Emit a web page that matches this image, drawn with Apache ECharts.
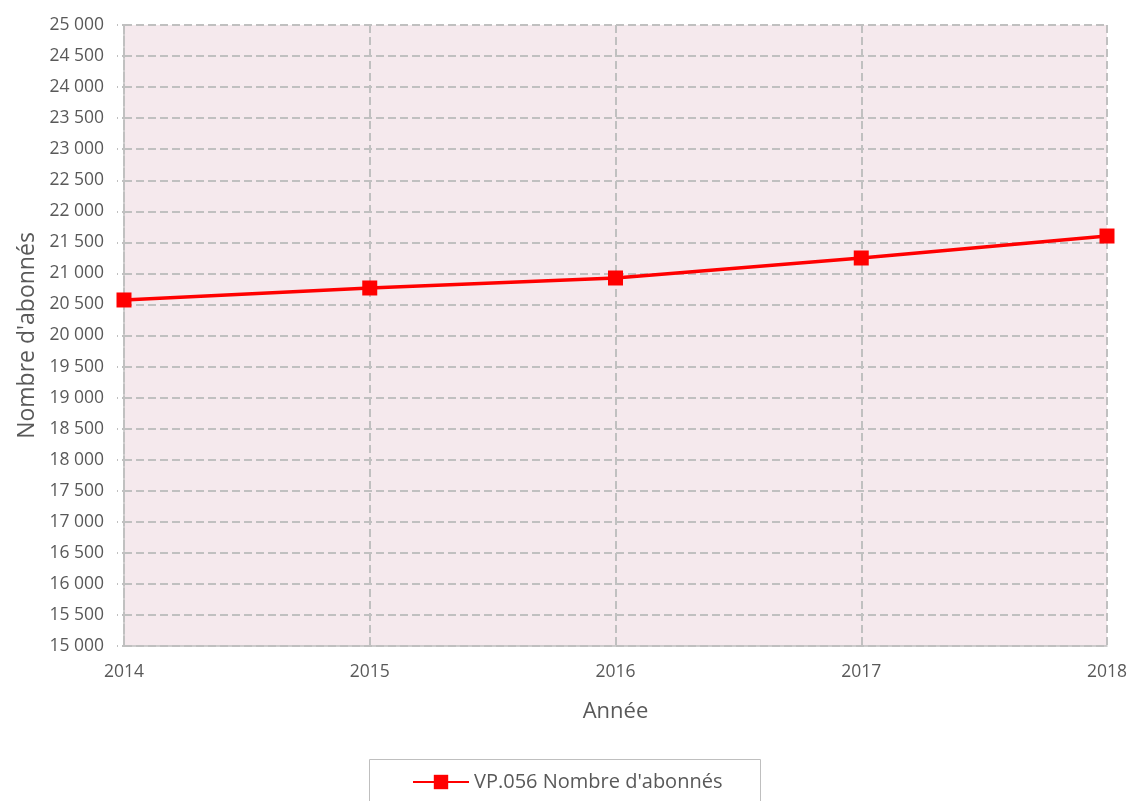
<!DOCTYPE html>
<html>
<head>
<meta charset="utf-8">
<script src="https://cdn.jsdelivr.net/npm/echarts@6/dist/echarts.min.js"></script>
<style>html,body{margin:0;padding:0;background:#fff;}#c{width:1131px;height:801px;}</style>
</head>
<body>
<div id="c"></div>
<script>
const years = ['2014', '2015', '2016', '2017', '2018'];
const abonnes = [20572, 20765, 20926, 21248, 21602];
const seriesName = "VP.056 Nombre d'abonnés";
const yTitle = "Nombre d'abonnés";
const xTitle = "Année";

const FONT = "'Open Sans', 'Liberation Sans', sans-serif";
const chart = echarts.init(document.getElementById('c'), null, {renderer: 'canvas'});
chart.setOption({
  animation: false,
  backgroundColor: '#ffffff',
  textStyle: {fontFamily: FONT},
  grid: {left: 124, right: 24, top: 25, bottom: 155, show: true, backgroundColor: '#f5e9ed', borderWidth: 0},
  graphic: [{
    type: 'rect', left: 369, top: 759, shape: {width: 391, height: 60},
    style: {fill: '#ffffff', stroke: '#bfbfbf', lineWidth: 1}, z: -1
  }],
  legend: {
    left: 407, top: 767, itemWidth: 56, itemHeight: 18, itemGap: 4,
    textStyle: {fontSize: 20, color: '#595959', fontFamily: FONT},
    data: [seriesName]
  },
  xAxis: {
    type: 'category', data: years, boundaryGap: false,
    name: xTitle, nameLocation: 'middle', nameGap: 55,
    nameTextStyle: {fontSize: 22, color: '#595959', fontFamily: FONT},
    axisLine: {lineStyle: {color: '#bfbfbf', width: 1.5}},
    axisTick: {show: false},
    axisLabel: {fontSize: 17.5, color: '#595959', margin: 17, fontFamily: FONT},
    splitLine: {show: true, lineStyle: {color: '#c0c0c0', width: 2, type: [8, 4]}}
  },
  yAxis: {
    type: 'value', min: 15000, max: 25000, interval: 500,
    name: yTitle, nameLocation: 'middle', nameGap: 82, nameRotate: 90,
    nameTextStyle: {fontSize: 23, color: '#595959', fontFamily: FONT},
    axisLine: {show: true, lineStyle: {color: '#c0c0c0', width: 2, type: [2, 2]}},
    axisTick: {show: true, length: 7, lineStyle: {color: '#c0c0c0', width: 2, type: [2, 4]}},
    axisLabel: {fontSize: 17.5, color: '#595959', margin: 20, fontFamily: FONT,
      formatter: v => String(v).replace(/\B(?=(\d{3})+(?!\d))/g, ' ')},
    splitLine: {show: true, lineStyle: {color: '#c0c0c0', width: 2, type: [8, 4]}}
  },
  series: [{
    name: seriesName, type: 'line', data: abonnes,
    symbol: 'rect', symbolSize: 15,
    lineStyle: {color: '#ff0000', width: 3.5},
    itemStyle: {color: '#ff0000'}
  }]
});
</script>
</body>
</html>
